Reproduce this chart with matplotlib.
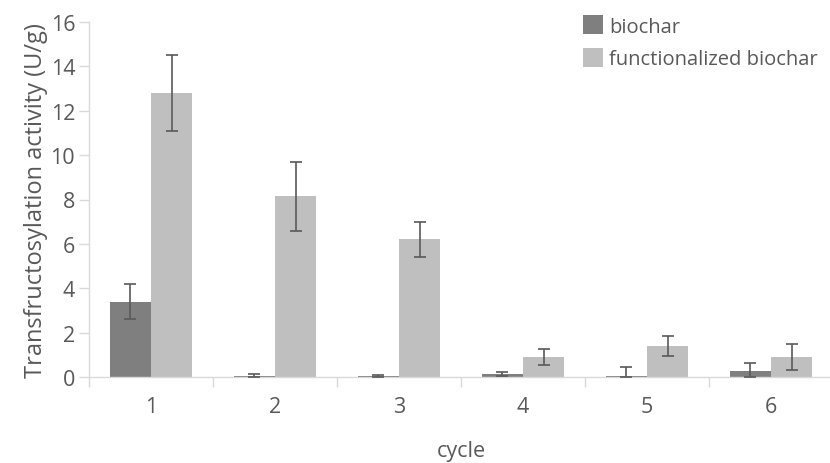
import matplotlib
matplotlib.use("Agg")
import matplotlib.pyplot as plt
import numpy as np

cycles = ["1", "2", "3", "4", "5", "6"]
biochar = [3.4, 0.04, 0.05, 0.14, 0.05, 0.28]
biochar_err_lo = [0.8, 0.04, 0.03, 0.1, 0.05, 0.27]
biochar_err_hi = [0.8, 0.11, 0.03, 0.1, 0.41, 0.34]
func = [12.8, 8.15, 6.2, 0.9, 1.4, 0.9]
func_err = [1.7, 1.55, 0.78, 0.37, 0.45, 0.57]
series_names = ["biochar", "functionalized biochar"]
yticks = [0, 2, 4, 6, 8, 10, 12, 14, 16]

plt.rcParams['font.family'] = ['Open Sans', 'DejaVu Sans']
TXT = '#595959'
AX = '#d9d9d9'
FS = 15.5

W, H = 830, 464
fig = plt.figure(figsize=(W/100, H/100), dpi=100)
L, R, B, T = 89, 833, 378, 23
ax = fig.add_axes([L/W, (H-B)/H, (R-L)/W, (B-T)/H])

x = np.arange(len(cycles))
w = 1/3
ax.bar(x - w/2, biochar, w, color='#7f7f7f', label=series_names[0], zorder=2)
ax.bar(x + w/2, func, w, color='#bfbfbf', label=series_names[1], zorder=2)
ekw = dict(fmt='none', ecolor='#595959', elinewidth=1.2, capsize=4.2, capthick=1.2, zorder=3)
ax.errorbar(x - w/2, biochar, yerr=[biochar_err_lo, biochar_err_hi], **ekw)
ax.errorbar(x + w/2, func, yerr=func_err, **ekw)

ax.set_xlim(-0.5, len(cycles) - 0.5)
ax.set_ylim(0, 16)
ax.set_yticks(yticks)
ax.set_xticks(x)
ax.set_xticklabels(cycles)
ax.set_xticks(np.arange(-0.5, len(cycles)), minor=True)

for s in ['top', 'right']:
    ax.spines[s].set_visible(False)
for s in ['left', 'bottom']:
    ax.spines[s].set_color(AX)
    ax.spines[s].set_linewidth(1.0)

ax.tick_params(axis='y', length=7, width=1, color=AX, labelcolor=TXT, labelsize=FS, pad=3)
ax.tick_params(axis='x', which='major', length=0, labelcolor=TXT, labelsize=FS, pad=14)
ax.tick_params(axis='x', which='minor', length=7, width=1, color=AX)

ax.set_ylabel("Transfructosylation activity (U/g)", color=TXT, fontsize=17, labelpad=2)
ax.set_xlabel("cycle", color=TXT, fontsize=FS, labelpad=16)

leg = fig.legend(loc='upper left', bbox_to_anchor=(583/W, 1 - 16/H), frameon=False,
                 fontsize=14.5, handlelength=1.0, handleheight=1.1, handletextpad=0.3,
                 labelspacing=0.55, labelcolor=TXT, borderpad=0.0, borderaxespad=0)

fig.savefig("out.png", dpi=100)
